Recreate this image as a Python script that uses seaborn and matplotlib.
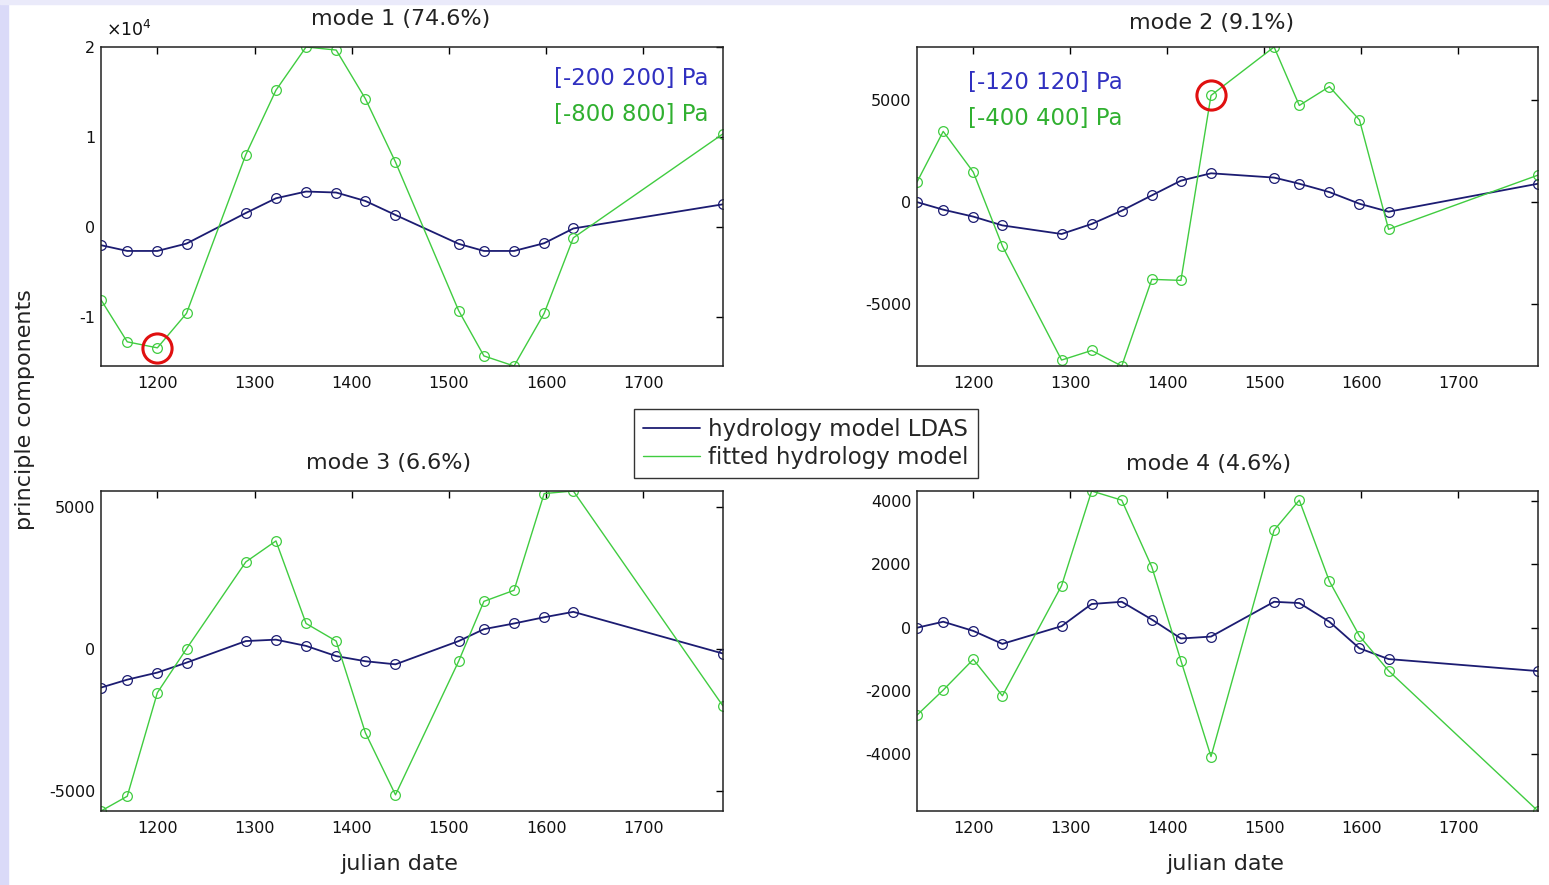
import numpy as np
import pandas as pd
import matplotlib
matplotlib.use("Agg")
import matplotlib.pyplot as plt
from matplotlib.lines import Line2D
from matplotlib.patches import Rectangle
from matplotlib.ticker import FuncFormatter
import seaborn as sns

# julian dates of the monthly solutions
dates = [1142, 1169, 1200, 1230, 1291, 1322, 1353, 1384, 1414, 1445, 1510, 1536, 1567, 1598, 1628, 1782]

# principle components
mode1_ldas = [-2050, -2690, -2690, -1870, 1530, 3170, 3920, 3810, 2870, 1310, -1900, -2690, -2690, -1830, -190, 2500]
mode1_fit = [-8130, -12800, -13470, -9630, 8020, 15190, 20000, 19660, 14250, 7200, -9330, -14370, -15490, -9630, -1230, 10340]
mode2_ldas = [-20, -390, -730, -1160, -1580, -1090, -440, 310, 1030, 1390, 1180, 880, 470, -100, -490, 880]
mode2_fit = [960, 3440, 1450, -2170, -7750, -7280, -8040, -3800, -3850, 5200, 7570, 4710, 5630, 4000, -1350, 1300]
mode3_ldas = [-1350, -1070, -820, -470, 290, 340, 120, -240, -420, -530, 290, 710, 910, 1130, 1320, -150]
mode3_fit = [-5700, -5180, -1530, 20, 3080, 3820, 910, 290, -2940, -5130, -420, 1690, 2080, 5490, 5580, -2000]
mode4_ldas = [0, 190, -100, -510, 50, 750, 820, 260, -340, -280, 820, 780, 190, -650, -990, -1370]
mode4_fit = [-2760, -1970, -1000, -2150, 1330, 4320, 4030, 1920, -1040, -4070, 3080, 4030, 1470, -260, -1360, -5790]

titles = ["mode 1 (74.6%)", "mode 2 (9.1%)", "mode 3 (6.6%)", "mode 4 (4.6%)"]
series_names = ["hydrology model LDAS", "fitted hydrology model"]
x_ticks = [1200, 1300, 1400, 1500, 1600, 1700]
y_ticks = [[-10000, 0, 10000, 20000], [-5000, 0, 5000], [-5000, 0, 5000], [-4000, -2000, 0, 2000, 4000]]
range_labels = [["[-200 200] Pa", "[-800 800] Pa"], ["[-120 120] Pa", "[-400 400] Pa"]]
circled = [2, 9]  # index of the circled point in mode 1 and mode 2

sns.set_style("white")
plt.rcParams["font.family"] = ["DejaVu Sans"]
plt.rcParams["axes.unicode_minus"] = False
plt.rcParams["xtick.direction"] = "in"
plt.rcParams["ytick.direction"] = "in"

BLUE = "#1c1c72"
GREEN = "#40cc40"

fig = plt.figure(figsize=(15.49, 8.85), dpi=100)
fig.patch.set_facecolor("white")
fig.patches.append(Rectangle((0, 0), 8 / 1549, 1, transform=fig.transFigure, color="#dadaf8", zorder=0))
fig.patches.append(Rectangle((0, 1 - 4 / 885), 1, 4 / 885, transform=fig.transFigure, color="#eaeafa", zorder=0))

W, H = 1549, 885
boxes = [(101, 47, 723, 366), (917, 47, 1538, 366), (101, 491, 723, 811), (917, 491, 1538, 811)]
title_x = [0.481, 0.475, 0.463, 0.469]
title_pad = [16, 13, 16, 15]

panels = [(mode1_ldas, mode1_fit), (mode2_ldas, mode2_fit), (mode3_ldas, mode3_fit), (mode4_ldas, mode4_fit)]

for i, (ldas, fit) in enumerate(panels):
    l, t, r, b = boxes[i]
    ax = fig.add_axes([l / W, 1 - b / H, (r - l) / W, (b - t) / H])

    df = pd.DataFrame({"date": dates, "ldas": ldas, "fit": fit})
    sns.lineplot(data=df, x="date", y="ldas", color=BLUE, marker="o", markersize=7,
                 markerfacecolor="none", markeredgecolor=BLUE, markeredgewidth=0.9,
                 linewidth=1.3, ax=ax, clip_on=True)
    sns.lineplot(data=df, x="date", y="fit", color=GREEN, marker="o", markersize=7,
                 markerfacecolor="none", markeredgecolor=GREEN, markeredgewidth=0.9,
                 linewidth=1.0, ax=ax, clip_on=True)

    # tight axes like matlab
    ax.set_xlim(min(dates), max(dates))
    ax.set_ylim(min(min(ldas), min(fit)), max(max(ldas), max(fit)))
    ax.set_xticks(x_ticks)
    ax.set_yticks(y_ticks[i])
    ax.tick_params(axis="both", which="both", top=True, right=True, length=5, width=1,
                   labelsize=11.5, color="black", labelcolor="#111111")
    ax.tick_params(axis="x", pad=7)
    ax.tick_params(axis="y", pad=4)
    for sp in ax.spines.values():
        sp.set_color("#222222")
        sp.set_linewidth(1.1)
    ax.set_xlabel("")
    ax.set_ylabel("")
    ax.set_title(titles[i], fontsize=16, x=title_x[i], pad=title_pad[i], color="#222222")

    if i == 0:
        ax.yaxis.set_major_formatter(FuncFormatter(lambda v, p: f"{v / 1e4:g}"))
        ax.text(0.008, 1.022, r"$\times\mathregular{10}^{\mathregular{4}}$", transform=ax.transAxes,
                fontsize=12.5, ha="left", va="bottom", color="#111111")
        ax.text(0.976, 0.90, range_labels[0][0], transform=ax.transAxes, ha="right", va="center",
                fontsize=16.5, color="#3030c0")
        ax.text(0.976, 0.787, range_labels[0][1], transform=ax.transAxes, ha="right", va="center",
                fontsize=16.5, color="#30b030")
    if i == 1:
        ax.text(0.082, 0.89, range_labels[1][0], transform=ax.transAxes, ha="left", va="center",
                fontsize=16.5, color="#3030c0")
        ax.text(0.082, 0.777, range_labels[1][1], transform=ax.transAxes, ha="left", va="center",
                fontsize=16.5, color="#30b030")
    if i < 2:
        k = circled[i]
        ax.plot([dates[k]], [fit[k]], marker="o", markersize=21, markerfacecolor="none",
                markeredgecolor="#e01010", markeredgewidth=2.2, linestyle="none", clip_on=False)
    if i >= 2:
        ax.set_xlabel("julian date", fontsize=16, labelpad=12, color="#222222")
        ax.xaxis.set_label_coords(0.479 if i == 2 else 0.496, -0.135)

fig.text(25 / W, 1 - 410 / H, "principle components", rotation=90, ha="center", va="center",
         fontsize=16, color="#222222")

handles = [Line2D([], [], color=BLUE, linewidth=1.3), Line2D([], [], color=GREEN, linewidth=1.0)]
leg = fig.legend(handles, series_names, loc="center", bbox_to_anchor=(806 / W, 1 - 443.5 / H),
                 fontsize=16.5, frameon=True, fancybox=False, handlelength=2.5, handletextpad=0.35,
                 borderpad=0.4, labelspacing=0.2, borderaxespad=0)
leg.get_frame().set_edgecolor("black")
leg.get_frame().set_linewidth(1.0)

fig.savefig("out.png", dpi=100, facecolor=fig.get_facecolor())
